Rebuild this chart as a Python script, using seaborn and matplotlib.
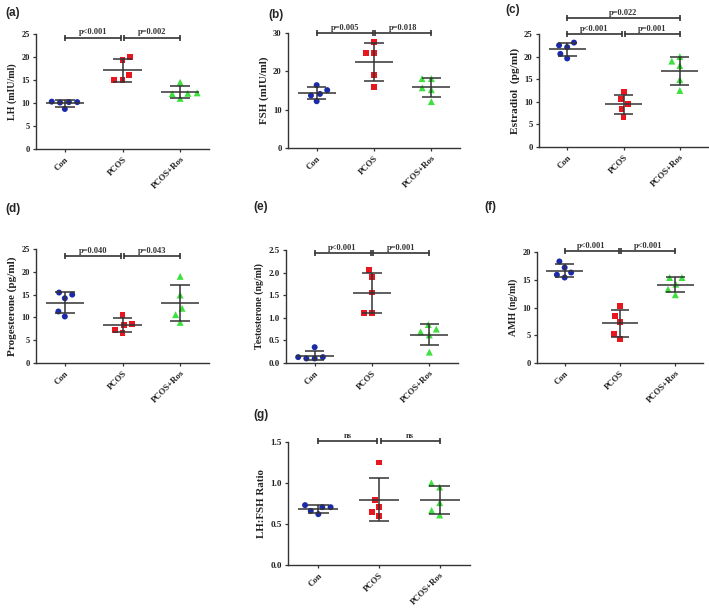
import numpy as np
import pandas as pd
import matplotlib
matplotlib.use("Agg")
import matplotlib.pyplot as plt
import seaborn as sns

sns.set_style("ticks")
plt.rcParams['font.family'] = ['Liberation Serif', 'DejaVu Serif']
plt.rcParams['font.weight'] = 'bold'

groups = ["Con", "PCOS", "PCOS+Ros"]
colors = ["#1a2aa8", "#e8161e", "#3ee03e"]
markers = ["o", "s", "^"]

# (a) LH
lh_con = [10.3, 10.2, 10.1, 10.2, 8.7]
lh_pcos = [20.1, 19.3, 16.0, 15.0, 15.0]
lh_ros = [14.5, 12.1, 12.0, 12.2, 11.0]
# (b) FSH
fsh_con = [16.4, 15.1, 14.1, 13.7, 12.2]
fsh_pcos = [27.6, 24.9, 24.9, 19.0, 15.8]
fsh_ros = [18.1, 18.1, 15.7, 15.2, 12.1]
# (c) Estradiol
e2_con = [23.1, 22.5, 22.1, 20.6, 19.6]
e2_pcos = [12.2, 10.6, 9.6, 8.4, 6.7]
e2_ros = [20.0, 19.0, 18.0, 14.9, 12.5]
# (d) Progesterone
p4_con = [15.45, 15.0, 14.2, 11.3, 10.2]
p4_pcos = [10.6, 8.5, 8.3, 7.3, 6.6]
p4_ros = [19.0, 14.9, 12.0, 10.6, 8.9]
# (e) Testosterone
t_con = [0.35, 0.13, 0.13, 0.10, 0.10]
t_pcos = [2.06, 1.90, 1.56, 1.10, 1.10]
t_ros = [0.85, 0.75, 0.69, 0.62, 0.24]
# (f) AMH
amh_con = [18.3, 17.2, 16.3, 15.9, 15.4]
amh_pcos = [10.3, 8.5, 7.4, 5.3, 4.3]
amh_ros = [15.4, 15.4, 14.2, 13.3, 12.3]
# (g) LH:FSH ratio
r_con = [0.73, 0.705, 0.705, 0.66, 0.62]
r_pcos = [1.25, 0.79, 0.705, 0.645, 0.60]
r_ros = [1.0, 0.95, 0.76, 0.665, 0.61]

ylabels = ["LH (mIU/ml)", "FSH (mIU/ml)", "Estradiol  (pg/ml)", "Progesterone (pg/ml)",
           "Testosterone (ng/ml)", "AMH (ng/ml)", "LH:FSH Ratio"]
yticks_list = [[0, 5, 10, 15, 20, 25], [0, 10, 20, 30], [0, 5, 10, 15, 20, 25],
               [0, 5, 10, 15, 20, 25], [0.0, 0.5, 1.0, 1.5, 2.0, 2.5],
               [0, 5, 10, 15, 20], [0.0, 0.5, 1.0, 1.5]]
sig_levels = [[24.2], [30.0], [25.0, 28.5], [23.5], [2.43], [20.2], [1.51]]
sig_texts = [["p<0.001", "p=0.002"], ["p=0.005", "p=0.018"],
             ["p<0.001", "p=0.001", "p=0.022"], ["p=0.040", "p=0.043"],
             ["p<0.001", "p=0.001"], ["p<0.001", "p<0.001"], ["ns", "ns"]]
panel_letters = ["(a)", "(b)", "(c)", "(d)", "(e)", "(f)", "(g)"]

datasets = [
    (lh_con, lh_pcos, lh_ros), (fsh_con, fsh_pcos, fsh_ros), (e2_con, e2_pcos, e2_ros),
    (p4_con, p4_pcos, p4_ros), (t_con, t_pcos, t_ros), (amh_con, amh_pcos, amh_ros),
    (r_con, r_pcos, r_ros),
]

W, H = 709, 609
# layout boxes in pixels: left, right, top, bottom
boxes = [(36, 209, 34, 149), (288, 460, 33, 148), (539, 708, 34, 147),
         (36, 209, 249, 363), (286, 458, 250, 363), (537, 703, 252, 363),
         (288, 470, 442, 565)]
ylabel_sizes = [7.2, 7.8, 8.2, 8.0, 7.1, 7.1, 7.8]
ytick_sizes = [6.0, 6.2, 6.2, 6.0, 6.4, 6.0, 6.6]
letter_pos = [(5, 13), (268, 15), (505, 10), (5, 209), (253, 207), (484, 207), (253, 415)]
fmt_float = [False, False, False, False, True, False, True]

fig = plt.figure(figsize=(W / 100, H / 100), dpi=100)
line_col = "#333333"

for k, (vals, box) in enumerate(zip(datasets, boxes)):
    l, r, t, b = box
    ax = fig.add_axes([l / W, 1 - b / H, (r - l) / W, (b - t) / H])
    df = pd.DataFrame({
        "group": np.repeat(groups, [len(v) for v in vals]),
        "value": np.concatenate(vals),
    })
    for g, c, m in zip(groups, colors, markers):
        sub = df[df["group"] == g]
        sns.swarmplot(data=sub, x="group", y="value", order=groups, color=c,
                      marker=m, size=4.3 if m != "^" else 5.0, linewidth=1.4,
                      ax=ax, zorder=3)
    for coll in ax.collections:
        coll.set_edgecolor("none")
    stats = df.groupby("group")["value"].agg(["mean", "std"]).reindex(groups)
    for i, g in enumerate(groups):
        mu, sd = stats.loc[g, "mean"], stats.loc[g, "std"]
        ax.hlines(mu, i - 0.33, i + 0.33, color=line_col, lw=1.1, zorder=4)
        ax.hlines([mu - sd, mu + sd], i - 0.17, i + 0.17, color=line_col, lw=1.1, zorder=4)
        ax.vlines(i, mu - sd, mu + sd, color=line_col, lw=1.1, zorder=4)

    yt = yticks_list[k]
    ax.set_xlim(-0.5, 2.5)
    ax.set_ylim(yt[0], yt[-1])
    ax.set_yticks(yt)
    if fmt_float[k]:
        ax.set_yticklabels([f"{v:.1f}" for v in yt])
    ax.set_xticks(range(3))
    ax.set_xticklabels(groups, rotation=45, ha="right", rotation_mode="anchor")
    ax.tick_params(axis="both", length=2.5, width=0.9, color=line_col,
                   labelcolor="#222222", pad=2)
    ax.tick_params(axis="y", labelsize=ytick_sizes[k])
    ax.tick_params(axis="x", labelsize=6.3)
    for lab in ax.get_xticklabels() + ax.get_yticklabels():
        lab.set_fontweight("bold")
    ax.set_xlabel("")
    ax.set_ylabel(ylabels[k], fontsize=ylabel_sizes[k], fontweight="bold", color="#222222", labelpad=3)
    sns.despine(ax=ax)
    for s in ["left", "bottom"]:
        ax.spines[s].set_color(line_col)
        ax.spines[s].set_linewidth(1.0)

    # significance bars
    trans_px = (yt[-1] - yt[0]) / (b - t)  # data per pixel
    tick_h = 3 * trans_px
    levels = sig_levels[k]
    texts = sig_texts[k]
    specs = [(0, 1, levels[0], texts[0]), (1, 2, levels[0], texts[1])]
    if len(levels) > 1:
        specs.append((0, 2, levels[1], texts[2]))
    for (i, j, yv, txt) in specs:
        x0 = i + (0.025 if i == 1 else 0)
        x1 = j - (0.025 if j == 1 else 0)
        ax.plot([x0, x1], [yv, yv], color=line_col, lw=1.2, clip_on=False, zorder=5)
        ax.vlines([x0, x1], yv - tick_h, yv + tick_h, color=line_col, lw=1.2, clip_on=False, zorder=5)
        ax.text((x0 + x1) / 2, yv + 1.2 * trans_px, txt, ha="center", va="bottom",
                fontsize=6.0, fontweight="bold", color=line_col, clip_on=False)

    lx, ly = letter_pos[k]
    fig.text(lx / W, 1 - ly / H, panel_letters[k], ha="left", va="center",
             fontsize=8.5, fontweight="bold", family=["Liberation Sans", "DejaVu Sans"])

fig.savefig("out.png", dpi=100)
